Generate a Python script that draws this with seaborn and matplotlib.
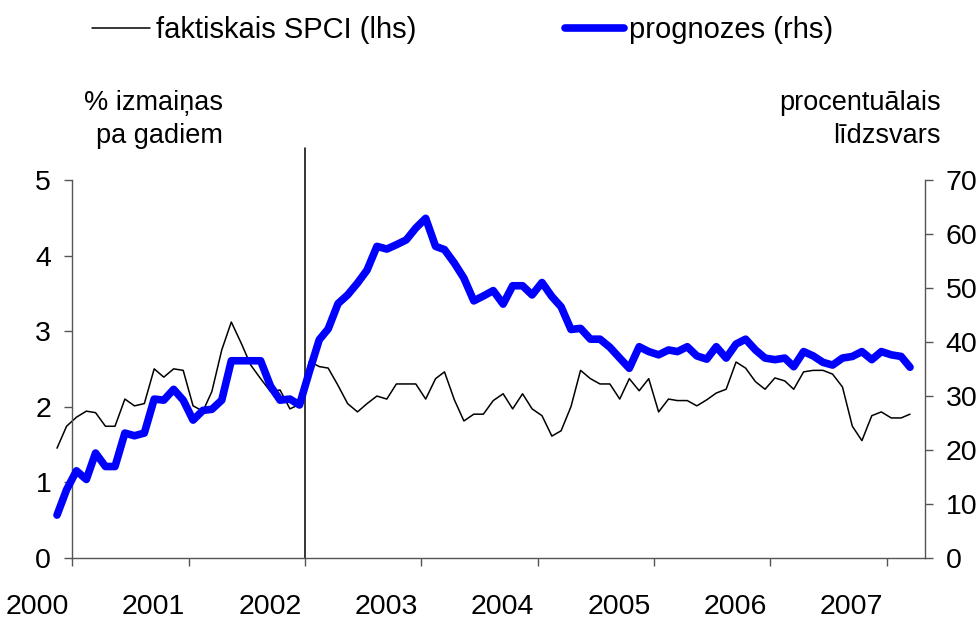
import pandas as pd
import numpy as np
import seaborn as sns
import matplotlib.pyplot as plt
import matplotlib.dates as mdates
from matplotlib.transforms import ScaledTranslation

# monthly observations, first one Nov 1999
start_month = "1999-11-01"

# faktiskais SPCI, % change y/y (left axis)
spci = [1.45, 1.74, 1.86, 1.94, 1.92, 1.74, 1.74, 2.10, 2.01, 2.04,
        2.50, 2.39, 2.50, 2.48, 2.01, 1.94, 2.20, 2.75, 3.12, 2.84,
        2.55, 2.37, 2.20, 2.22, 1.97, 2.03, 2.60, 2.53, 2.51, 2.28,
        2.04, 1.93, 2.04, 2.14, 2.10, 2.30, 2.30, 2.30, 2.10, 2.37,
        2.46, 2.09, 1.81, 1.90, 1.90, 2.08, 2.17, 1.97, 2.17, 1.97,
        1.88, 1.61, 1.68, 2.00, 2.48, 2.37, 2.30, 2.30, 2.10, 2.37,
        2.21, 2.37, 1.93, 2.10, 2.08, 2.08, 2.01, 2.09, 2.18, 2.23,
        2.59, 2.51, 2.33, 2.23, 2.38, 2.34, 2.23, 2.46, 2.48, 2.48,
        2.43, 2.26, 1.74, 1.55, 1.88, 1.93, 1.85, 1.85, 1.90]

# prognozes, percentage balance (right axis)
prognozes = [7.9, 12.6, 16.1, 14.5, 19.4, 16.9, 16.9, 23.1, 22.6, 23.1,
             29.4, 29.2, 31.2, 29.2, 25.5, 27.3, 27.5, 29.2, 36.5, 36.5,
             36.5, 36.5, 31.8, 29.2, 29.4, 28.3, 34.5, 40.4, 42.4, 47.1,
             48.7, 50.9, 53.3, 57.7, 57.2, 58.0, 58.9, 61.1, 62.9, 57.7,
             57.1, 54.6, 51.8, 47.6, 48.5, 49.5, 47.0, 50.4, 50.4, 48.7,
             51.0, 48.4, 46.5, 42.3, 42.5, 40.5, 40.5, 39.0, 37.0, 35.1,
             39.1, 38.2, 37.6, 38.5, 38.2, 39.1, 37.4, 36.8, 39.1, 37.0,
             39.6, 40.5, 38.5, 37.0, 36.7, 37.0, 35.4, 38.2, 37.4, 36.2,
             35.7, 37.0, 37.3, 38.2, 36.7, 38.2, 37.6, 37.3, 35.3]

years = list(range(2000, 2008))
left_ticks = [0, 1, 2, 3, 4, 5]
right_ticks = [0, 10, 20, 30, 40, 50, 60, 70]

dates = pd.date_range(start_month, periods=len(spci), freq="MS") + pd.Timedelta(days=14)
df = pd.DataFrame({"date": dates, "spci": spci, "prognozes": prognozes})

sns.set_theme(style="white")
plt.rcParams["font.family"] = ["Liberation Sans", "DejaVu Sans"]
plt.rcParams["text.color"] = "black"
plt.rcParams["xtick.color"] = "black"
plt.rcParams["ytick.color"] = "black"
FS = 20.5
axis_col = "#555555"

fig = plt.figure(figsize=(9.76, 6.19), dpi=100)
ax = fig.add_axes([50 / 976, 61.3 / 619, 875 / 976, 377.7 / 619])

sns.lineplot(data=df, x="date", y="spci", ax=ax, color="black", lw=1.1)
ax2 = ax.twinx()
sns.lineplot(data=df, x="date", y="prognozes", ax=ax2, color="#0000ff", lw=5.5)

x0 = mdates.date2num(pd.Timestamp("2000-01-01"))
xmax = mdates.date2num(pd.Timestamp("2007-05-01"))
ax.set_xlim(mdates.date2num(pd.Timestamp("1999-10-24")), xmax)
ax.set_ylim(0, 5)
ax2.set_ylim(0, 70)

# x axis
ax.set_xticks([mdates.date2num(pd.Timestamp(f"{y}-01-01")) for y in years])
ax.set_xticklabels([str(y) for y in years])
ax.set_xlabel("")
ax.set_ylabel("")
ax2.set_ylabel("")
ax.set_yticks(left_ticks)
ax2.set_yticks(right_ticks)

for a in (ax, ax2):
    for s in a.spines.values():
        s.set_color(axis_col)
        s.set_linewidth(1)
    a.spines["top"].set_visible(False)

ax.spines["left"].set_position(("data", x0))
ax.spines["right"].set_visible(False)
ax.spines["bottom"].set_bounds(x0, xmax)
ax2.spines["left"].set_visible(False)
ax2.spines["bottom"].set_visible(False)

ax.tick_params(axis="x", direction="out", length=6, width=1, color=axis_col,
               labelcolor="black", labelsize=FS, pad=20, bottom=True)
ax.tick_params(axis="y", direction="out", length=6, width=1, color=axis_col,
               labelcolor="black", labelsize=FS, pad=9, left=True)
ax2.tick_params(axis="y", direction="out", length=6, width=1, color=axis_col,
                labelcolor="black", labelsize=FS, pad=9, right=True)

# year labels sit to the left of their tick marks
offset = ScaledTranslation(-0.35, 0, fig.dpi_scale_trans)
for lab in ax.xaxis.get_majorticklabels():
    lab.set_transform(lab.get_transform() + offset)

# vertical marker at 2002
ax.axvline(mdates.date2num(pd.Timestamp("2002-01-01")), ymin=0, ymax=1.085,
           color="black", lw=1.1, clip_on=False)

# axis titles
fig.text(223 / 976, 1 - 119 / 619, "% izmaiņas\npa gadiem", ha="right",
         va="center", fontsize=19.5, linespacing=1.35, multialignment="right",
         color="black")
fig.text(941 / 976, 1 - 119 / 619, "procentuālais\nlīdzsvars", ha="right",
         va="center", fontsize=19.5, linespacing=1.35, multialignment="right",
         color="black")

# legend
handles = [ax.lines[0], ax2.lines[0]]
leg = fig.legend(handles, ["faktiskais SPCI (lhs)", "prognozes (rhs)"],
                 loc="center left", bbox_to_anchor=(92 / 976, 1 - 30 / 619),
                 ncol=2, frameon=False, fontsize=21, handlelength=2.0,
                 handletextpad=0.2, columnspacing=5.1, borderpad=0,
                 borderaxespad=0)
for t in leg.get_texts():
    t.set_color("black")

fig.savefig("out.png", dpi=100)
